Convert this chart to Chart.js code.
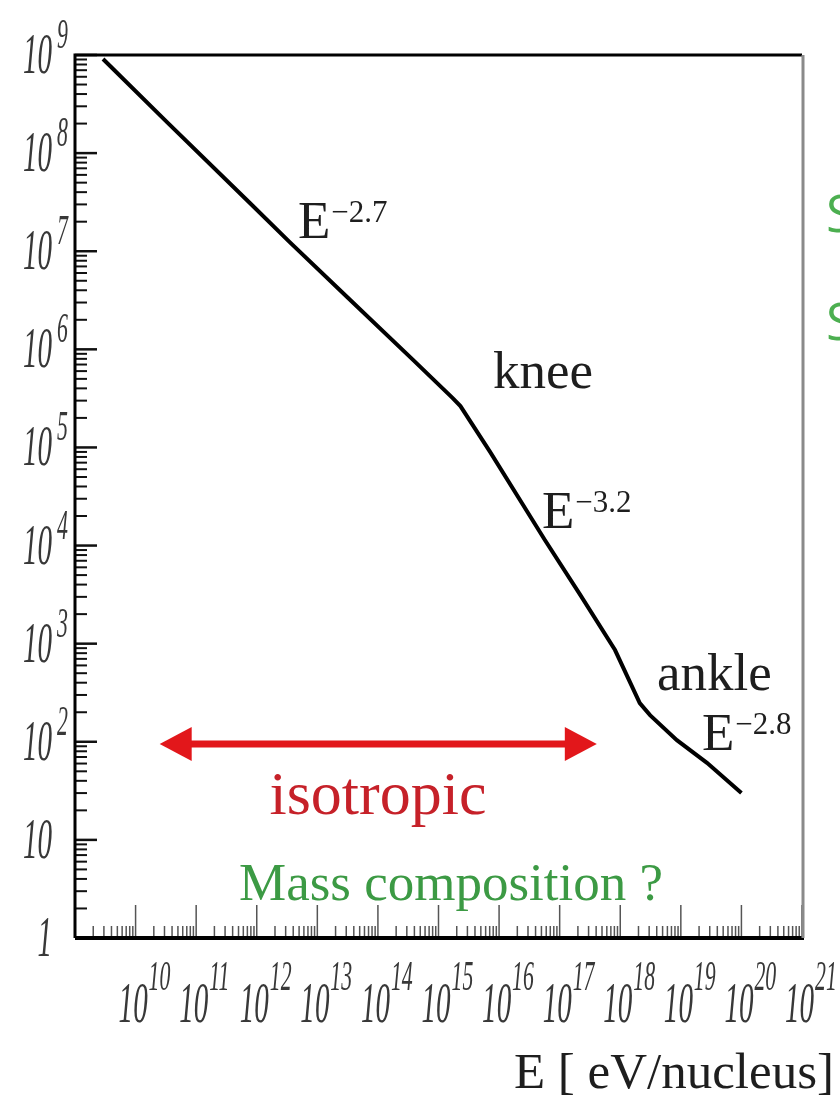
<!DOCTYPE html>
<html>
<head>
<meta charset="utf-8">
<script src="https://cdn.jsdelivr.net/npm/chart.js@4.4.1/dist/chart.umd.min.js"></script>
<style>
  html, body { margin: 0; padding: 0; background: #fff; }
  #wrap { width: 840px; height: 1103px; position: relative; }
</style>
</head>
<body>
<div id="wrap"><canvas id="spectrum"></canvas></div>
<script>
// spectrum: energy [eV/nucleus] and flux
const energies = [2.9e9, 3.3e10, 7.7e11, 3.5e12, 3.1e13, 3.8e14, 1.7e15, 2.3e15, 7.1e15,
                  5.7e16, 2.2e17, 8.2e17, 2.1e18, 3.1e18, 8.6e18, 2.7e19, 1.0e20];
const flux = [9.1e8, 2.07e8, 3.1e7, 1.24e7, 3.42e6, 7.8e5, 3.2e5, 2.64e5, 9.0e4,
              1.14e4, 3.13e3, 861, 248, 187, 104, 61, 30];

// axis decades (tick labels are 10^k)
const xTickExp = [10, 11, 12, 13, 14, 15, 16, 17, 18, 19, 20, 21];
const yTickExp = [0, 1, 2, 3, 4, 5, 6, 7, 8, 9];
const minorSteps = [2, 3, 4, 5, 6, 7, 8, 9];

// the red "isotropic" arrow
const arrowEnergy = [2.5e10, 4.1e17];
const arrowFlux = 95;

const slopeLabels = ["\u22122.7", "\u22123.2", "\u22122.8"];
const featureLabels = ["knee", "ankle"];

function condensed(ctx, text, x, y, size, align) {
  ctx.save();
  ctx.font = "italic " + size + "px 'Liberation Serif'";
  ctx.textAlign = align || "left";
  ctx.translate(x, y);
  ctx.scale(0.52, 1);
  ctx.fillText(text, 0, 0);
  ctx.restore();
}

function powerLabel(ctx, x, y, exp) {
  ctx.font = "53px 'Liberation Serif'";
  ctx.fillText("E", x, y);
  const w = ctx.measureText("E").width;
  ctx.font = "31px 'Liberation Serif'";
  ctx.fillText(exp, x + w + 1, y - 16);
}

const rootFrame = {
  id: "rootFrame",
  afterDraw(chart) {
    const ctx = chart.ctx;
    const a = chart.chartArea;
    const xs = chart.scales.x, ys = chart.scales.y;
    ctx.save();

    // y ticks (inside the frame)
    ctx.strokeStyle = "#111";
    for (let k = 0; k < 9; k++) {
      minorSteps.forEach(m => {
        const py = ys.getPixelForValue(m * Math.pow(10, k));
        ctx.lineWidth = 2;
        ctx.beginPath(); ctx.moveTo(a.left, py); ctx.lineTo(a.left + 12, py); ctx.stroke();
      });
    }
    yTickExp.forEach(k => {
      const py = ys.getPixelForValue(Math.pow(10, k));
      ctx.lineWidth = 2.5;
      ctx.beginPath(); ctx.moveTo(a.left, py); ctx.lineTo(a.left + 22, py); ctx.stroke();
    });

    // x ticks
    ctx.strokeStyle = "#555";
    for (let k = 9; k < 21; k++) {
      minorSteps.forEach(m => {
        const px = xs.getPixelForValue(m * Math.pow(10, k));
        ctx.lineWidth = 1.5;
        ctx.beginPath(); ctx.moveTo(px, a.bottom); ctx.lineTo(px, a.bottom - 12); ctx.stroke();
      });
    }
    xTickExp.forEach(k => {
      const px = xs.getPixelForValue(Math.pow(10, k));
      ctx.lineWidth = 1.5;
      ctx.beginPath(); ctx.moveTo(px, a.bottom); ctx.lineTo(px, a.bottom - 33); ctx.stroke();
    });

    // frame
    ctx.strokeStyle = "#000";
    ctx.lineWidth = 3;
    ctx.beginPath();
    ctx.moveTo(a.right, a.top); ctx.lineTo(a.left, a.top); ctx.lineTo(a.left, a.bottom);
    ctx.stroke();
    ctx.lineWidth = 4;
    ctx.beginPath(); ctx.moveTo(a.left, a.bottom); ctx.lineTo(a.right + 2, a.bottom); ctx.stroke();
    ctx.strokeStyle = "#8a8a8a";
    ctx.lineWidth = 3;
    ctx.beginPath(); ctx.moveTo(a.right + 1, a.top); ctx.lineTo(a.right + 1, a.bottom); ctx.stroke();

    // tick labels
    ctx.fillStyle = "#383838";
    yTickExp.forEach(k => {
      const py = ys.getPixelForValue(Math.pow(10, k));
      if (k === 0) {
        condensed(ctx, "1", 52, py + 18, 56, "right");
      } else {
        condensed(ctx, "10", 23, py + 18, 56);
        if (k > 1) condensed(ctx, String(k), 57, py - 7, 42);
      }
    });
    xTickExp.forEach(k => {
      const px = xs.getPixelForValue(Math.pow(10, k));
      condensed(ctx, "10", px - 17, 1022, 56);
      condensed(ctx, String(k), px + 13, 990, 42);
    });

    // arrow
    const xl = xs.getPixelForValue(arrowEnergy[0]);
    const xr = xs.getPixelForValue(arrowEnergy[1]);
    const ya = ys.getPixelForValue(arrowFlux);
    ctx.strokeStyle = "#e2171b";
    ctx.fillStyle = "#e2171b";
    ctx.lineWidth = 7;
    ctx.beginPath(); ctx.moveTo(xl + 20, ya); ctx.lineTo(xr - 20, ya); ctx.stroke();
    ctx.beginPath();
    ctx.moveTo(xl, ya); ctx.lineTo(xl + 32, ya - 17); ctx.lineTo(xl + 32, ya + 17); ctx.closePath();
    ctx.fill();
    ctx.beginPath();
    ctx.moveTo(xr, ya); ctx.lineTo(xr - 32, ya - 17); ctx.lineTo(xr - 32, ya + 17); ctx.closePath();
    ctx.fill();

    // annotations
    ctx.fillStyle = "#1e1e1e";
    ctx.textAlign = "left";
    powerLabel(ctx, 298, 238, slopeLabels[0]);
    powerLabel(ctx, 542, 528, slopeLabels[1]);
    powerLabel(ctx, 702, 750, slopeLabels[2]);
    ctx.font = "53px 'Liberation Serif'";
    ctx.fillText(featureLabels[0], 493, 388);
    ctx.fillText(featureLabels[1], 657, 690);

    ctx.fillStyle = "#c62129";
    ctx.font = "62px 'Liberation Serif'";
    ctx.textAlign = "center";
    ctx.fillText("isotropic", 378, 814);

    ctx.fillStyle = "#3c9a44";
    ctx.font = "53px 'Liberation Serif'";
    ctx.textAlign = "left";
    ctx.fillText("Mass composition ?", 239, 900);

    // axis title
    ctx.fillStyle = "#1e1e1e";
    ctx.font = "51px 'Liberation Serif'";
    ctx.textAlign = "right";
    ctx.fillText("E [ eV/nucleus]", 834, 1088);

    // cut-off text at the slide edge
    ctx.fillStyle = "#4caf50";
    ctx.font = "52px 'Open Sans'";
    ctx.textAlign = "left";
    ctx.fillText("S", 826, 232);
    ctx.fillText("S", 826, 340);

    ctx.restore();
  }
};

new Chart(document.getElementById("spectrum"), {
  type: "line",
  data: {
    datasets: [{
      data: energies.map((e, i) => ({ x: e, y: flux[i] })),
      borderColor: "#000",
      borderWidth: 4,
      pointRadius: 0,
      tension: 0,
      fill: false
    }]
  },
  options: {
    responsive: true,
    maintainAspectRatio: false,
    animation: false,
    layout: { padding: { left: 75, top: 55, right: 38, bottom: 165 } },
    scales: {
      x: { type: "logarithmic", min: 1e9, max: 1e21, display: false },
      y: { type: "logarithmic", min: 1, max: 1e9, display: false }
    },
    plugins: {
      legend: { display: false },
      tooltip: { enabled: false }
    }
  },
  plugins: [rootFrame]
});
</script>
</body>
</html>
